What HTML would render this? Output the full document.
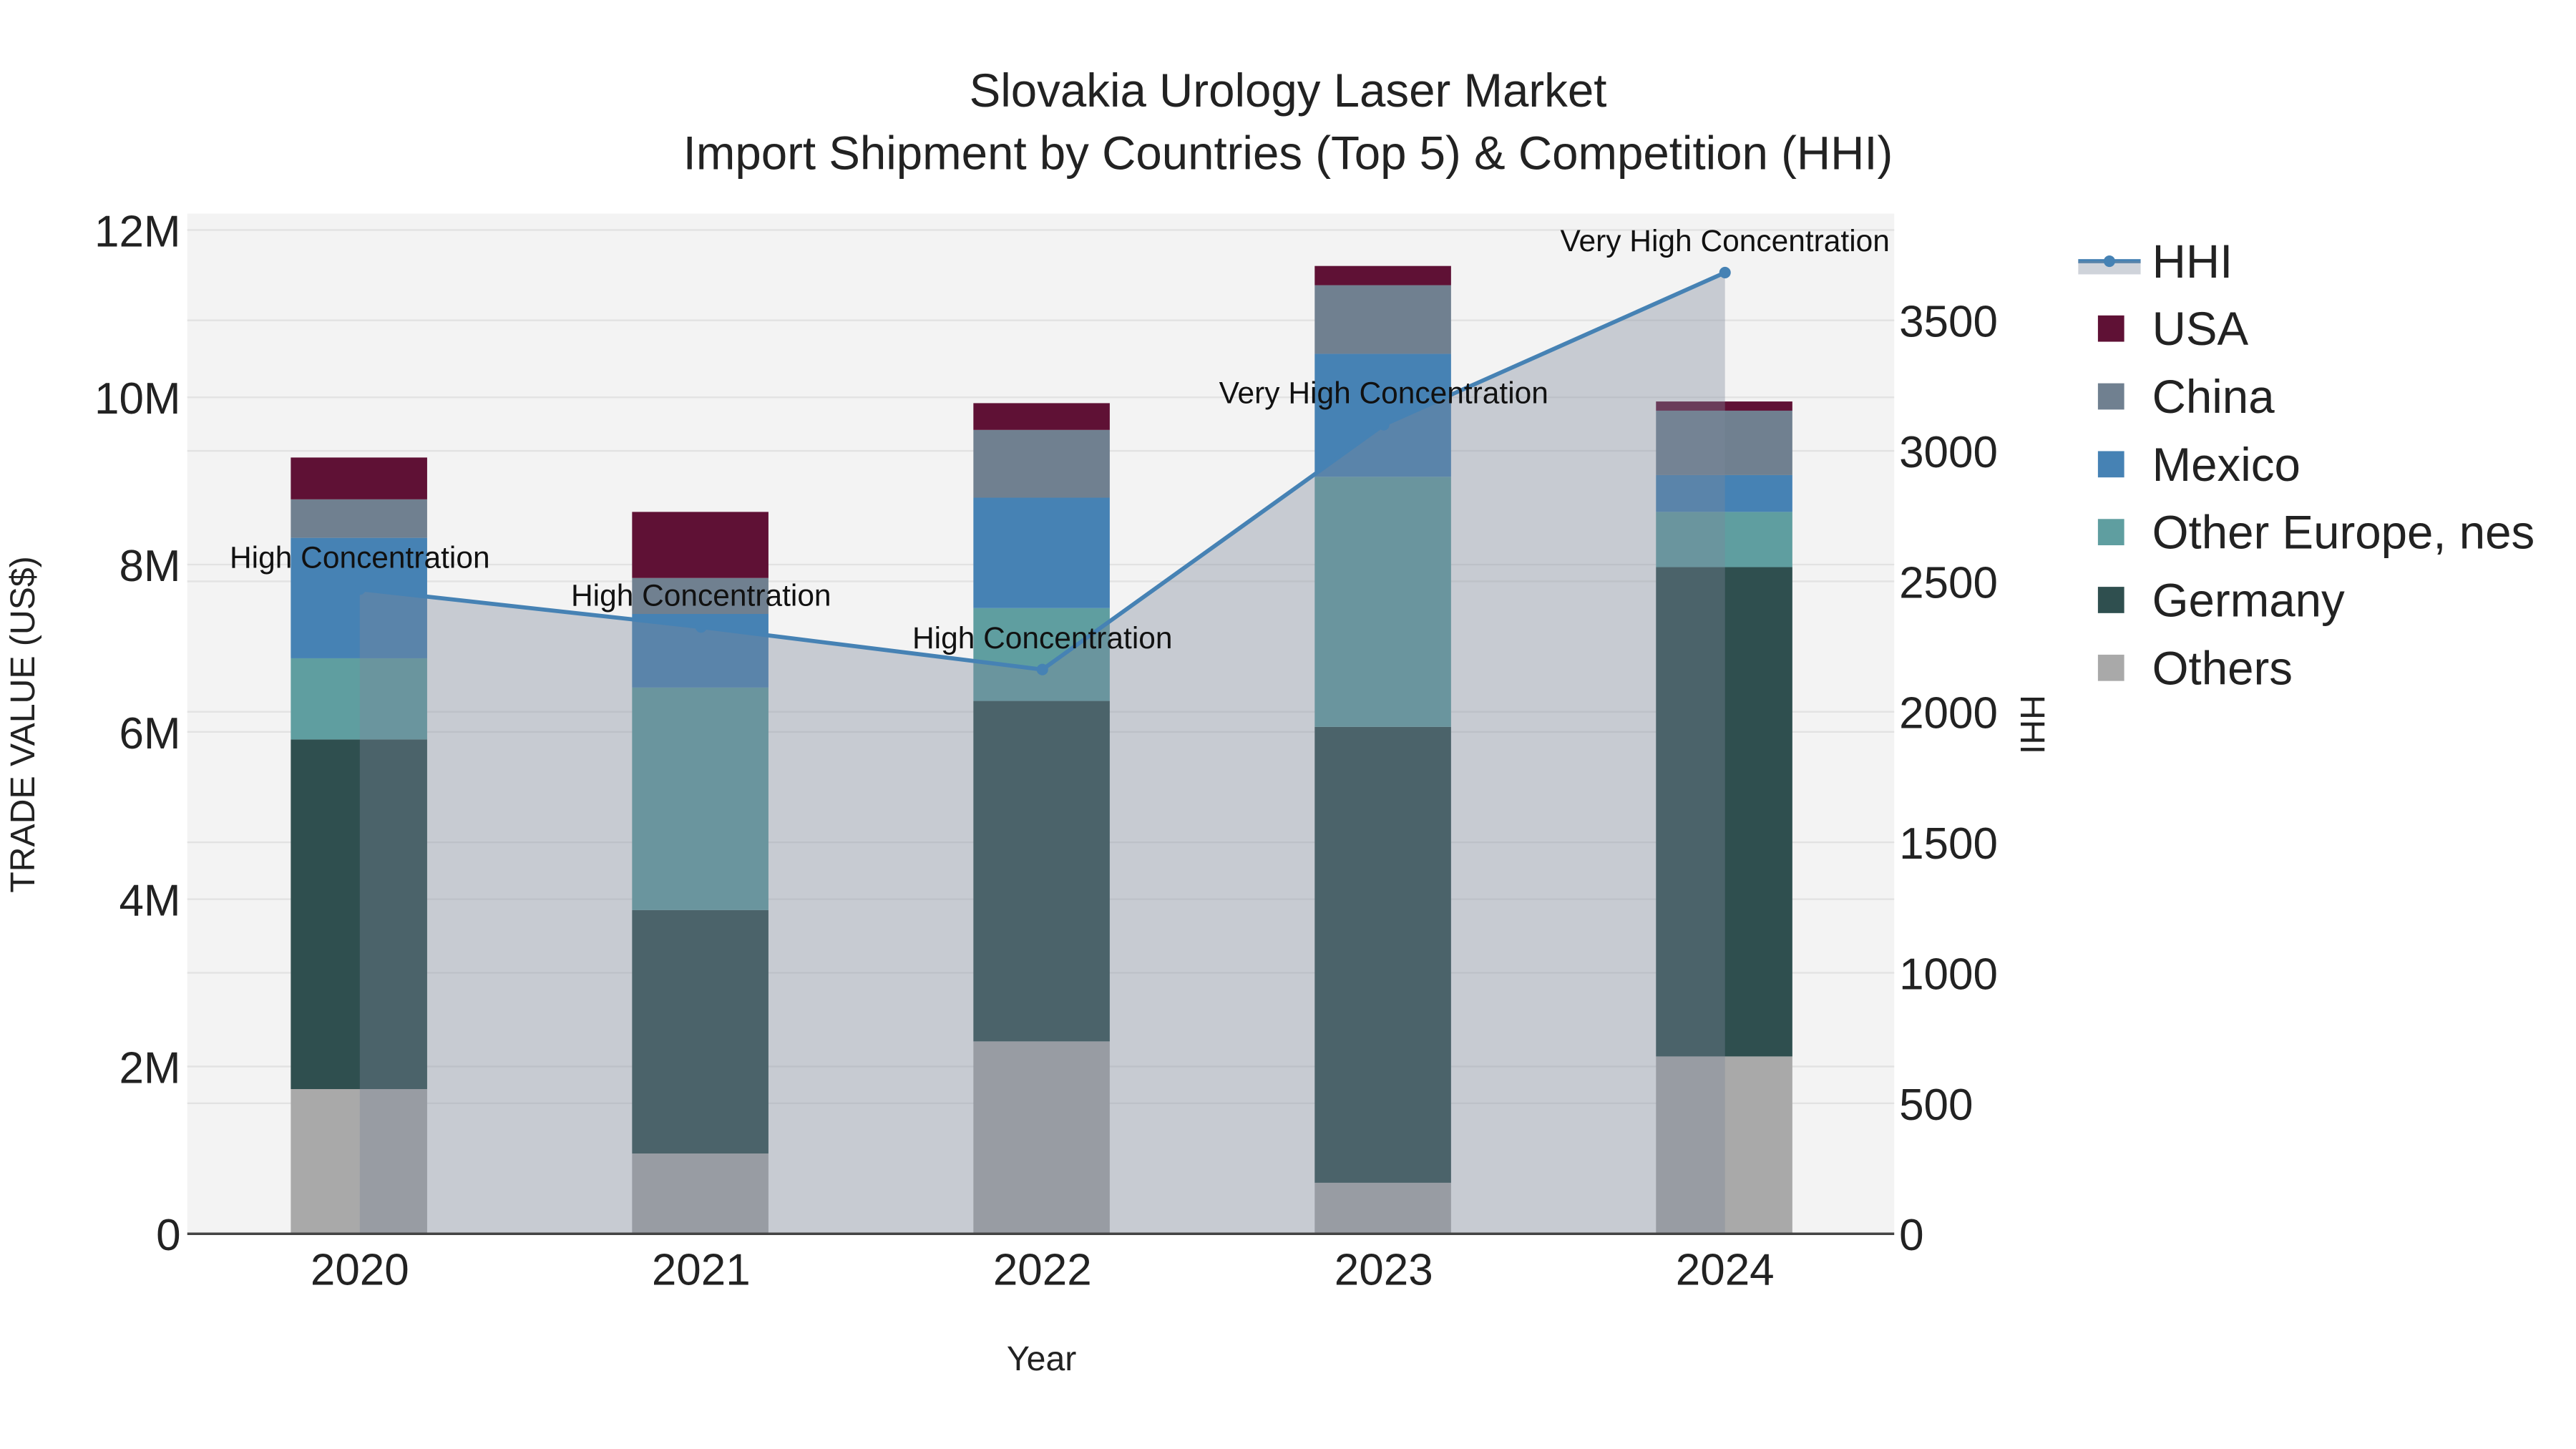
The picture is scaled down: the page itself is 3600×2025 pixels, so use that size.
<!DOCTYPE html>
<html><head><meta charset="utf-8"><style>
html,body{margin:0;padding:0;background:#fff}
svg{display:block;font-family:"Liberation Sans",sans-serif}
</style></head><body>
<svg id="chart" width="3600" height="2025" viewBox="0 0 1568 882" xmlns="http://www.w3.org/2000/svg">
<rect x="0" y="0" width="1568" height="882" fill="#fff"/>
<rect x="114" y="130" width="1039" height="621" fill="#f3f3f3"/>
<g id="grid"></g><g id="bars"></g><g id="area"></g><g id="axes"></g><g id="labels"></g>
<text x="784" y="65" font-size="28.5" text-anchor="middle" fill="#222">Slovakia Urology Laser Market</text>
<text x="784" y="103" font-size="28.5" text-anchor="middle" fill="#222">Import Shipment by Countries (Top 5) &amp; Competition (HHI)</text>
<text x="634" y="834" font-size="21" text-anchor="middle" fill="#222">Year</text>
<text transform="translate(21,441) rotate(-90)" font-size="21" text-anchor="middle" fill="#222">TRADE VALUE (US$)</text>
<text transform="translate(1230,441) rotate(90)" font-size="21" text-anchor="middle" fill="#222">HHI</text>
<g id="legend"></g>
</svg>
<script>
const years=["2020","2021","2022","2023","2024"];
const others=[1.73,0.96,2.30,0.61,2.12];
const germany=[4.18,2.91,4.07,5.45,5.85];
const otherEurope=[0.97,2.66,1.11,2.99,0.66];
const mexico=[1.44,0.88,1.32,1.47,0.44];
const china=[0.46,0.43,0.81,0.82,0.77];
const usa=[0.50,0.79,0.32,0.23,0.11];
const hhi=[2470,2325,2162,3100,3683];
const hhiLabels=["High Concentration","High Concentration","High Concentration","Very High Concentration","Very High Concentration"];
const leftTicks=[0,2,4,6,8,10,12];
const leftTickLabels=["0","2M","4M","6M","8M","10M","12M"];
const rightTicks=[0,500,1000,1500,2000,2500,3000,3500];

const NS="http://www.w3.org/2000/svg";
function mk(tag,attrs,parent,text){const e=document.createElementNS(NS,tag);for(const k in attrs)e.setAttribute(k,attrs[k]);if(text!==undefined)e.textContent=text;parent.appendChild(e);return e;}
const y0=751,yTop=140;
const yL=v=>y0-(v/12)*(y0-yTop);
const yR=v=>y0-(v/3500)*(y0-195);
const xC=i=>219+i*207.75;
const bw=83;
const G=id=>document.getElementById(id);

leftTicks.forEach((t,i)=>{
  const l=mk('line',{x1:114,x2:1153,y1:yL(t),y2:yL(t),stroke:'#e2e2e2','stroke-width':1},G('grid'));
  
  
  const tx=mk('text',{x:110,y:yL(t)+10,'font-size':27,'text-anchor':'end',fill:'#222'},G('axes'),leftTickLabels[i]);
  
  
});
rightTicks.forEach(t=>{
  if(t>0){const l=mk('line',{x1:114,x2:1153,y1:yR(t),y2:yR(t),stroke:'#e2e2e2','stroke-width':1},G('grid'));
  
  }
  const tx=mk('text',{x:1156,y:yR(t)+10,'font-size':27,fill:'#222'},G('axes'),String(t));
  
  
});

const series=[["Others",others,"#a9a9a9"],["Germany",germany,"#2f4f4f"],["Other Europe, nes",otherEurope,"#5f9ea0"],["Mexico",mexico,"#4682b4"],["China",china,"#708090"],["USA",usa,"#5f1135"]];
years.forEach((yr,i)=>{
  let base=0;
  series.forEach(([name,vals,col])=>{
    const v=vals[i];
    const r=mk('rect',{x:xC(i)-42,y:yL(base+v),width:bw,height:yL(base)-yL(base+v),fill:col},G('bars'));
    
    
    base+=v;
  });
  const tx=mk('text',{x:xC(i),y:782,'font-size':27,'text-anchor':'middle',fill:'#222'},G('axes'),yr);
  
  
});

let pts=hhi.map((h,i)=>xC(i)+','+yR(h)).join(' ');
const poly=mk('polygon',{points:xC(0)+','+y0+' '+pts+' '+xC(4)+','+y0,fill:'rgba(125,136,155,0.37)'},G('area'));


const pl=mk('polyline',{points:pts,fill:'none',stroke:'#4682b4','stroke-width':2.5},G('area'));


hhi.forEach((h,i)=>{
  const c=mk('circle',{cx:xC(i),cy:yR(h),r:3.5,fill:'#4682b4'},G('area'));
  
  
  const t=mk('text',{x:xC(i),y:yR(h)-13,'font-size':18.5,'text-anchor':'middle',fill:'#111'},G('labels'),hhiLabels[i]);
  
  
});
const zl=mk('line',{x1:114,x2:1153,y1:y0,y2:y0,stroke:'#444','stroke-width':1.5},G('axes'));



const lg=G('legend');
const lh=mk('line',{x1:1265,x2:1303,y1:159,y2:159,stroke:'#4682b4','stroke-width':2.5},lg);


const la=mk('rect',{x:1265,y:159,width:38,height:8,fill:'rgba(125,136,155,0.37)'},lg);


const lc=mk('circle',{cx:1284,cy:159,r:3.5,fill:'#4682b4'},lg);


const ht=mk('text',{x:1310,y:169,'font-size':28.5,fill:'#222'},lg,'HHI');


series.slice().reverse().forEach(([name,vals,col],k)=>{
  const y=200+k*41.3;
  const s=mk('rect',{x:1277,y:y-8,width:16,height:16,fill:col},lg);
  
  
  const t=mk('text',{x:1310,y:y+10,'font-size':28.5,fill:'#222'},lg,name);
  
  
});
</script>
</body></html>
